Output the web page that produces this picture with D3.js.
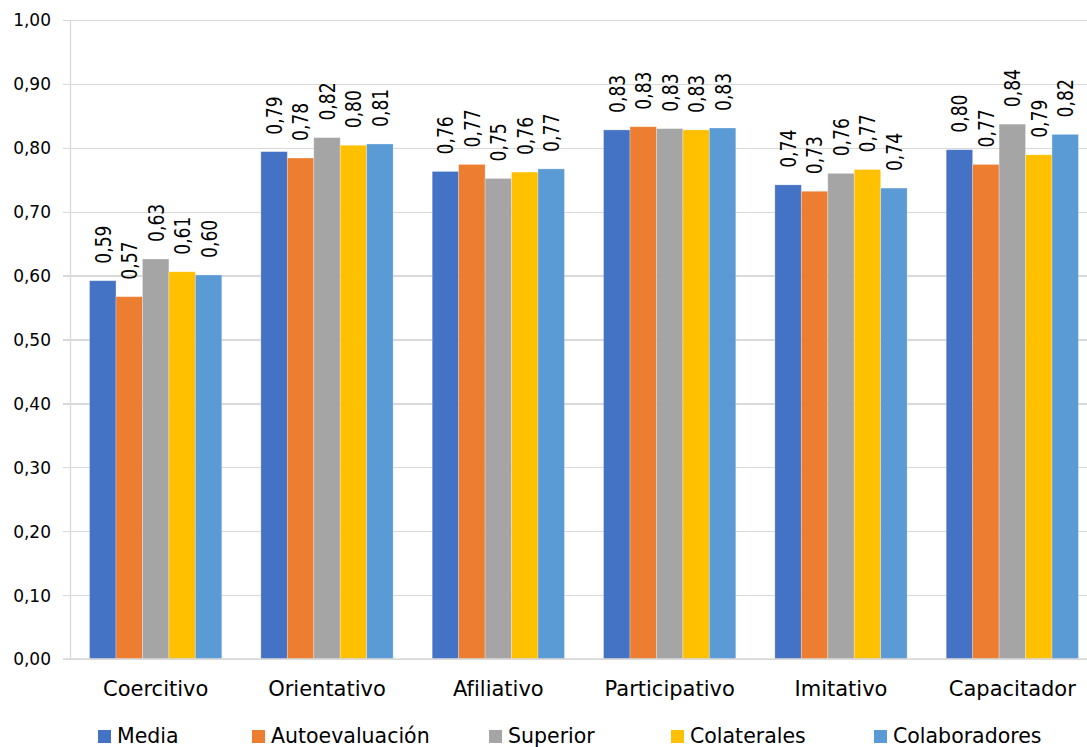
<!DOCTYPE html>
<html lang="es">
<head>
<meta charset="utf-8">
<script src="https://cdn.jsdelivr.net/npm/d3@7"></script>
<style>
  html, body { margin: 0; padding: 0; background: #fff; }
  svg { display: block; font-family: "DejaVu Sans", sans-serif; }
</style>
</head>
<body>
<svg id="chart" width="1087" height="747"></svg>
<script>
// Estilos de liderazgo y puntuación media por fuente de evaluación
const categories = ["Coercitivo", "Orientativo", "Afiliativo", "Participativo", "Imitativo", "Capacitador"];
const seriesNames = ["Media", "Autoevaluación", "Superior", "Colaterales", "Colaboradores"];
const media          = [0.592, 0.794, 0.763, 0.828, 0.742, 0.797];
const autoevaluacion = [0.567, 0.784, 0.774, 0.833, 0.732, 0.774];
const superior       = [0.626, 0.816, 0.752, 0.830, 0.760, 0.837];
const colaterales    = [0.606, 0.804, 0.762, 0.828, 0.766, 0.789];
const colaboradores  = [0.601, 0.806, 0.767, 0.831, 0.737, 0.821];
const yTicks = [0, 0.1, 0.2, 0.3, 0.4, 0.5, 0.6, 0.7, 0.8, 0.9, 1.0];

const seriesValues = [media, autoevaluacion, superior, colaterales, colaboradores];
const colors = ["#4472C4", "#ED7D31", "#A5A5A5", "#FFC000", "#5B9BD5"];

const svg = d3.select("#chart");
const W = 1087, H = 747;
const plot = { left: 70, right: 1098, top: 20, bottom: 659 };

const fmt = v => d3.format(".2f")(v).replace(".", ",");

const y = d3.scaleLinear().domain([0, 1]).range([plot.bottom, plot.top]);
const x0 = d3.scaleBand().domain(categories).range([plot.left, plot.right]).padding(0);
const groupW = x0.bandwidth() * 0.772;
const x1 = d3.scaleBand().domain(seriesNames)
  .range([(x0.bandwidth() - groupW) / 2, (x0.bandwidth() + groupW) / 2]).padding(0);

// Cuadrícula horizontal y marcas del eje
const yAxis = d3.axisLeft(y).tickValues(yTicks).tickFormat(fmt)
  .tickSize(-(W - plot.left)).tickSizeOuter(0).tickPadding(0);
const gy = svg.append("g").attr("transform", `translate(${plot.left},0)`).call(yAxis);
gy.select(".domain").remove();
gy.selectAll(".tick line")
  .attr("x1", -7).attr("x2", W - plot.left)
  .attr("stroke", "#D9D9D9").attr("stroke-width", 1.3)
  .attr("shape-rendering", "crispEdges");
gy.selectAll(".tick text")
  .attr("x", -19).attr("dy", "0.35em")
  .attr("fill", "#000").attr("font-size", 17)
  .attr("font-family", "DejaVu Sans, sans-serif");

// Línea vertical del eje
svg.append("line")
  .attr("x1", plot.left + 0.5).attr("x2", plot.left + 0.5)
  .attr("y1", y(1)).attr("y2", y(0))
  .attr("stroke", "#D9D9D9").attr("stroke-width", 1.3);

// Barras agrupadas
const rows = categories.map((c, i) => ({
  cat: c,
  vals: seriesNames.map((s, j) => ({ s, j, v: seriesValues[j][i] }))
}));

const groups = svg.append("g").selectAll("g.grp").data(rows).join("g")
  .attr("class", "grp")
  .attr("transform", d => `translate(${x0(d.cat)},0)`);

groups.selectAll("rect").data(d => d.vals).join("rect")
  .attr("x", d => x1(d.s))
  .attr("width", x1.bandwidth())
  .attr("y", d => y(d.v))
  .attr("height", d => y(0) - y(d.v))
  .attr("fill", d => colors[d.j])
  .attr("stroke", "#ffffff").attr("stroke-opacity", 0.35).attr("stroke-width", 0.8);

// Línea base del eje horizontal
svg.append("line")
  .attr("x1", plot.left - 7).attr("x2", W)
  .attr("y1", y(0)).attr("y2", y(0))
  .attr("stroke", "#D9D9D9").attr("stroke-width", 1.3);

// Etiquetas de valor giradas
groups.selectAll("text.val").data(d => d.vals).join("text")
  .attr("class", "val")
  .attr("transform", d => `translate(${x1(d.s) + x1.bandwidth() / 2},${y(d.v) - 17}) rotate(-90) scale(0.78,1)`)
  .attr("dy", "0.36em")
  .attr("font-size", 22)
  .attr("fill", "#000")
  .text(d => fmt(d.v));

// Etiquetas de categoría
svg.append("g").selectAll("text").data(categories).join("text")
  .attr("x", d => x0(d) + x0.bandwidth() / 2)
  .attr("y", 696)
  .attr("text-anchor", "middle")
  .attr("font-size", 21)
  .attr("fill", "#000")
  .text(d => d);

// Leyenda
const legendX = [98, 252, 489, 671, 874];
const legend = svg.append("g").selectAll("g").data(seriesNames).join("g")
  .attr("transform", (d, i) => `translate(${legendX[i]},730)`);
legend.append("rect").attr("width", 13).attr("height", 13)
  .attr("fill", (d, i) => colors[i]);
legend.append("text").attr("x", 19).attr("y", 13)
  .attr("font-size", 20.5).attr("fill", "#000")
  .text(d => d);
</script>
</body>
</html>
